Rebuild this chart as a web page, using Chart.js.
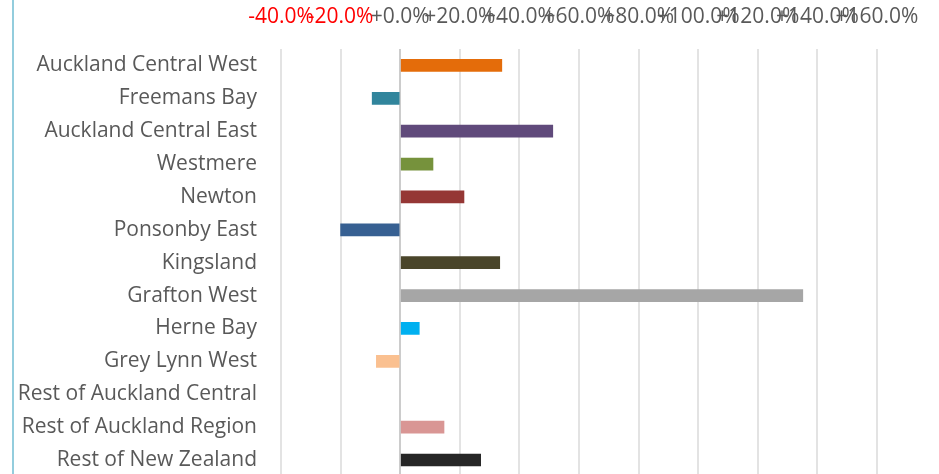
<!DOCTYPE html>
<html>
<head>
<meta charset="utf-8">
<script src="https://cdn.jsdelivr.net/npm/chart.js@4.4.1/dist/chart.umd.min.js"></script>
<style>
  html, body { margin: 0; padding: 0; background: #fff; overflow: hidden; }
  #wrap { position: relative; width: 939px; height: 474px; overflow: hidden; }
  #edge { position: absolute; left: 12px; top: 0; width: 2px; height: 474px; background: #93CDDD; }
  canvas { position: absolute; left: 0; top: 0; }
</style>
</head>
<body>
<div id="wrap">
  <canvas id="chart" width="939" height="513"></canvas>
  <div id="edge"></div>
</div>
<script>
const suburbs = [
  "Auckland Central West",
  "Freemans Bay",
  "Auckland Central East",
  "Westmere",
  "Newton",
  "Ponsonby East",
  "Kingsland",
  "Grafton West",
  "Herne Bay",
  "Grey Lynn West",
  "Rest of Auckland Central",
  "Rest of Auckland Region",
  "Rest of New Zealand"
];

// percentage change (no bar shown for Rest of Auckland Central)
const changePct = [34.1, -9.4, 51.2, 11.0, 21.4, -20.0, 33.4, 135.1, 6.4, -8.0, null, 14.7, 27.0];

const barColours = [
  "#E46C0A", "#31859C", "#604A7B", "#76923C", "#953735", "#376092",
  "#4A452A", "#A6A6A6", "#00B0F0", "#FAC090", "#8064A2", "#D99694", "#262626"
];

const axisMin = -40;
const axisMax = 160;
const axisStep = 20;

const fontFamily = "'Open Sans', 'Liberation Sans', sans-serif";

function fmtPct(v) {
  if (v < 0) return "-" + Math.abs(v).toFixed(1) + "%";
  return "+" + v.toFixed(1) + "%";
}

const ctx = document.getElementById("chart").getContext("2d");

new Chart(ctx, {
  type: "bar",
  data: {
    labels: suburbs,
    datasets: [
      {
        data: changePct,
        backgroundColor: barColours,
        borderWidth: 0,
        barThickness: 12
      }
    ]
  },
  options: {
    indexAxis: "y",
    responsive: false,
    animation: false,
    layout: { padding: { left: 0, right: 62, top: 0, bottom: 0 } },
    plugins: {
      legend: { display: false },
      tooltip: { enabled: false }
    },
    scales: {
      x: {
        position: "top",
        min: axisMin,
        max: axisMax,
        border: { display: false },
        grid: {
          drawTicks: false,
          lineWidth: 2,
          color: (c) => (c.tick && c.tick.value === 0 ? "#CCCCCC" : "#E3E3E3")
        },
        ticks: {
          stepSize: axisStep,
          autoSkip: false,
          maxRotation: 0,
          padding: 19,
          font: { family: fontFamily, size: 21 },
          color: (c) => (c.tick && c.tick.value < 0 ? "#FF0000" : "#595959"),
          callback: (v) => fmtPct(v)
        },
        afterFit: (scale) => { scale.height = 49; }
      },
      y: {
        border: { display: false },
        grid: { display: false, drawTicks: false },
        ticks: {
          padding: 24,
          autoSkip: false,
          font: { family: fontFamily, size: 21 },
          color: "#595959"
        },
        afterFit: (scale) => { scale.width = 281; }
      }
    }
  }
});
</script>
</body>
</html>
